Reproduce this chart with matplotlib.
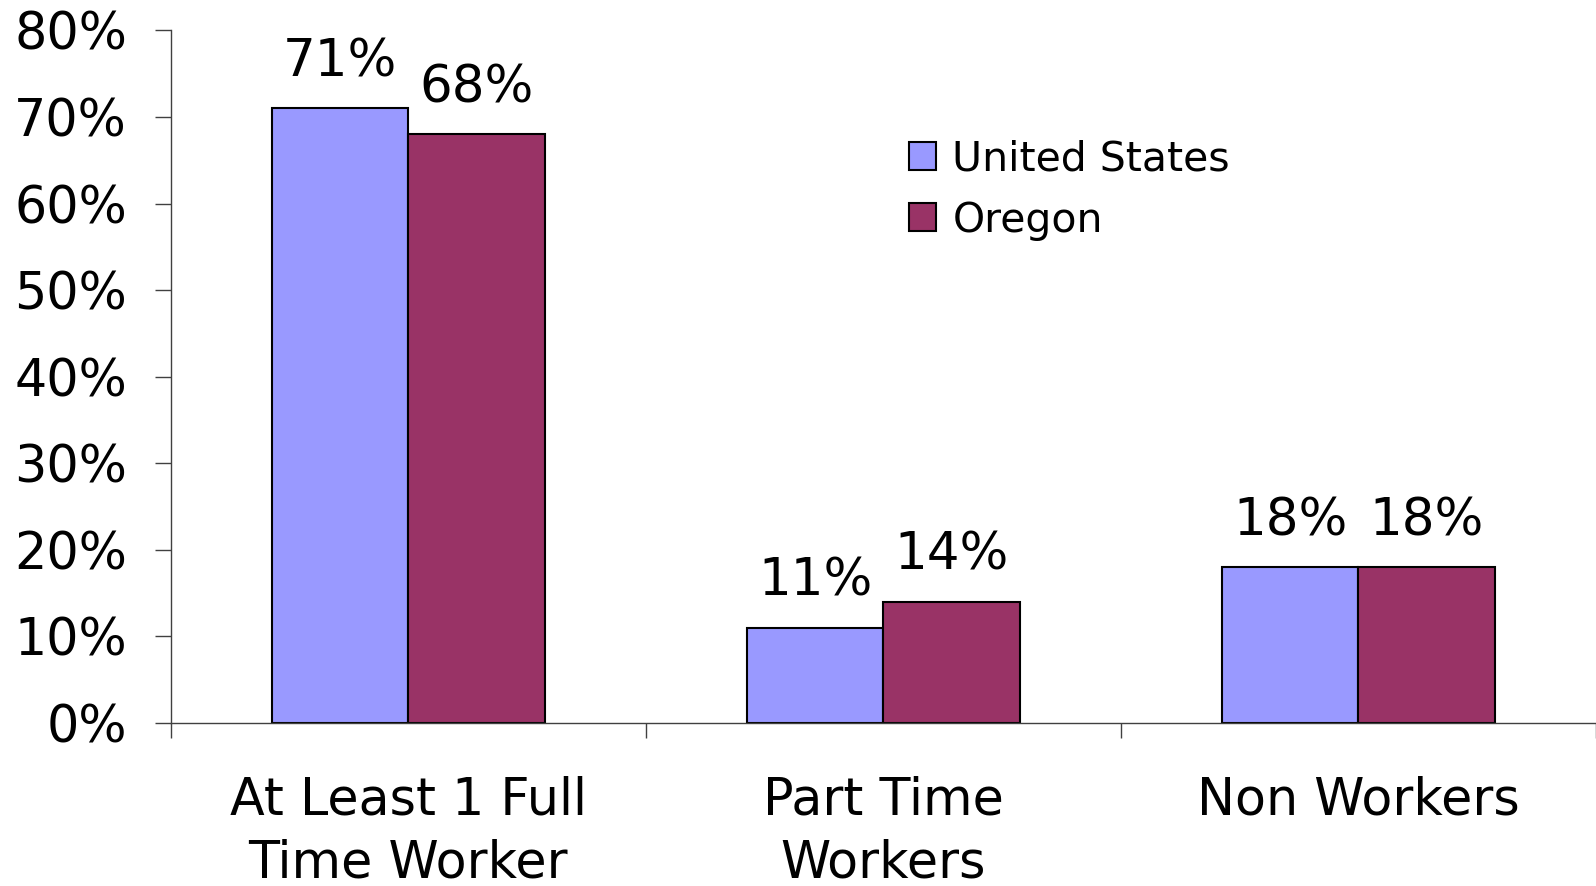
import matplotlib
matplotlib.use("Agg")
import matplotlib.pyplot as plt
import numpy as np

# Chart data
categories = ["At Least 1 Full\nTime Worker", "Part Time\nWorkers", "Non Workers"]
us_values = [71, 11, 18]
oregon_values = [68, 14, 18]
series_names = ["United States", "Oregon"]
y_ticks = [0, 10, 20, 30, 40, 50, 60, 70, 80]

plt.rcParams['font.family'] = ['DejaVu Sans']

fig = plt.figure(figsize=(15.96, 8.86), dpi=100)
ax = fig.add_axes([0.107, 0.184, 0.893, 0.7816])

x = np.arange(len(categories))
w = 0.287
bars_us = ax.bar(x - w / 2, us_values, w, color="#9999FF", edgecolor="black",
                 linewidth=1.5, label=series_names[0])
bars_or = ax.bar(x + w / 2, oregon_values, w, color="#993366", edgecolor="black",
                 linewidth=1.5, label=series_names[1])

# value labels above bars
for bars, vals in ((bars_us, us_values), (bars_or, oregon_values)):
    for b, v in zip(bars, vals):
        ax.annotate(f"{v}%", (b.get_x() + b.get_width() / 2, v),
                    xytext=(0, 15), textcoords="offset points",
                    ha="center", va="bottom", fontsize=37)

ax.set_xlim(-0.5, len(categories) - 0.5)
ax.set_ylim(0, 80)

ax.set_yticks(y_ticks)
ax.set_yticklabels([f"{t}%" for t in y_ticks])
ax.tick_params(axis="y", direction="out", length=11.5, width=1, color="#404040",
               labelsize=36.5, pad=20)

# boundary ticks (major), category labels on minor ticks
ax.set_xticks(np.arange(len(categories) + 1) - 0.5)
ax.set_xticklabels([])
ax.set_xticks(x, minor=True)
ax.set_xticklabels(categories, minor=True, fontsize=36.5, linespacing=1.32)
ax.tick_params(axis="x", which="major", direction="out", length=11, width=1, color="#404040")
ax.tick_params(axis="x", which="minor", length=0, pad=38)

for s in ("top", "right"):
    ax.spines[s].set_visible(False)
for s in ("left", "bottom"):
    ax.spines[s].set_color("#404040")
    ax.spines[s].set_linewidth(1)

leg = ax.legend(loc="upper left", bbox_to_anchor=(0.518, 0.843), frameon=False,
                fontsize=29.5, handlelength=0.66, handleheight=0.66,
                handletextpad=0.4, labelspacing=0.52, borderpad=0, borderaxespad=0)

fig.savefig("out.png", dpi=100)
